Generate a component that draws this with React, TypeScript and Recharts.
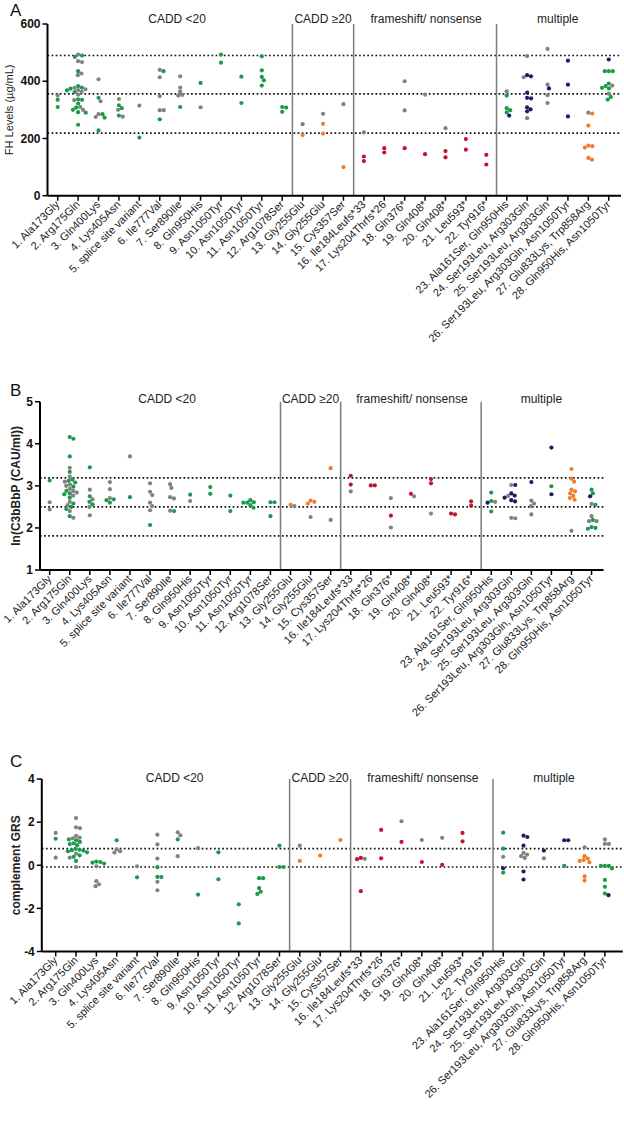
import React from 'react';
import { ScatterChart, Scatter, XAxis, YAxis, ReferenceLine } from 'recharts';

// ---- categories / sections ----
const categories = [
  '1. Ala173Gly', '2. Arg175Gln', '3. Gln400Lys', '4. Lys405Asn', '5. splice site variant',
  '6. Ile777Val', '7. Ser890Ile', '8. Gln950His', '9. Asn1050Tyr', '10. Asn1050Tyr',
  '11. Asn1050Tyr', '12. Arg1078Ser', '13. Gly255Glu', '14. Gly255Glu', '15. Cys357Ser',
  '16. Ile184Leufs*33', '17. Lys204Thrfs*26', '18. Gln376*', '19. Gln408*', '20. Gln408*',
  '21. Leu593*', '22. Tyr916*', '23. Ala161Ser, Gln950His', '24. Ser193Leu, Arg303Gln',
  '25. Ser193Leu, Arg303Gln', '26. Ser193Leu, Arg303Gln, Asn1050Tyr', '27. Glu833Lys, Trp858Arg',
  '28. Gln950His, Asn1050Tyr',
];
const catTicks = categories.map((_, i) => i + 1);
const sectionTitles = ['CADD <20', 'CADD \u226520', 'frameshift/ nonsense', 'multiple'];
const sectionCenters = [6.85, 14, 19.05, 25.5];
const sectionDividers = [12.5, 15.5, 22.5];

type Groups = Record<number, number[]>;

// ---- A: FH levels (µg/mL) ----
const fhRefs = [490, 356, 219];
const fhGreen: Groups = {
  1: [335, 310],
  2: [490, 485, 435, 383, 378, 374, 368, 362, 337, 335, 322, 308, 300, 292, 290, 248],
  3: [342, 285, 273, 228], 4: [316, 306, 280], 5: [203], 6: [435, 267], 7: [310], 8: [394],
  9: [493, 465], 10: [416, 324], 11: [487, 438, 415, 403, 385], 12: [310, 308, 293],
  23: [350, 306, 299, 291], 28: [435, 435, 435, 392, 383, 377, 375, 345, 336],
};
const fhGrey: Groups = {
  1: [350], 2: [493, 470, 467, 427, 421, 377, 372, 369, 363, 353, 334, 310, 300],
  3: [407, 330, 285, 275], 4: [338, 300, 276], 5: [315], 6: [440, 414, 348, 299, 299],
  7: [417, 378, 364, 352, 350], 8: [309], 13: [250], 14: [286], 15: [320], 16: [221],
  18: [400, 298], 19: [353], 20: [236], 23: [365], 24: [488, 414, 271], 25: [513, 388, 351, 324],
  27: [290], 28: [385, 357],
};
const fhOrange: Groups = { 13: [212], 14: [251, 217], 15: [100], 27: [287, 245, 175, 173, 168, 132, 126] };
const fhRed: Groups = { 16: [137, 121], 17: [166, 151], 18: [166], 19: [145], 20: [156, 134], 21: [198, 161], 22: [143, 109] };
const fhNavy: Groups = { 23: [280], 24: [421, 417, 360, 342, 340, 309, 302, 295], 25: [375], 26: [472, 388, 277], 28: [476] };

// ---- B: ln(C3bBbP) ----
const c3Refs = [3.19, 2.5, 1.81];
const c3Green: Groups = {
  1: [3.13],
  2: [4.16, 4.12, 3.7, 3.33, 3.15, 3.12, 3.08, 2.98, 2.88, 2.82, 2.8, 2.72, 2.58, 2.5, 2.45, 2.28],
  3: [3.44, 2.75, 2.62, 2.56], 4: [2.68, 2.66, 2.6], 5: [2.73], 6: [2.07], 7: [2.4], 8: [2.79],
  9: [2.97, 2.81], 10: [2.77, 2.4], 11: [2.66, 2.61, 2.6, 2.6, 2.54, 2.48], 12: [2.61, 2.61, 2.28],
  23: [2.84, 2.64, 2.39], 26: [2.99], 28: [2.91, 2.82, 2.55, 2.19, 2.02, 2.0, 1.98],
};
const c3Grey: Groups = {
  1: [2.61, 2.44], 2: [3.43, 3.22, 3.1, 3.03, 3.0, 2.93, 2.88, 2.84, 2.77, 2.62, 2.54, 2.4, 2.24],
  3: [2.91, 2.68, 2.5, 2.3], 4: [3.09, 2.92, 2.71], 5: [3.7], 6: [3.06, 2.86, 2.78, 2.6, 2.52, 2.42],
  7: [3.04, 2.95, 2.73, 2.7, 2.41], 8: [2.64], 13: [2.52], 14: [2.26], 15: [2.19], 16: [2.87],
  18: [2.71, 2.01], 19: [2.75], 20: [2.34], 23: [2.62], 24: [3.02, 2.76, 2.24, 2.23],
  25: [2.65, 2.58, 2.52, 2.32], 27: [1.93], 28: [2.57, 2.28, 2.16, 2.16],
};
const c3Orange: Groups = { 13: [2.55], 14: [2.65, 2.62, 2.58], 15: [3.42], 27: [3.4, 3.17, 3.1, 2.91, 2.87, 2.82, 2.76, 2.71, 2.67] };
const c3Red: Groups = { 16: [3.24, 3.03], 17: [3.01, 3.01], 18: [2.29], 19: [2.81], 20: [3.16, 3.06], 21: [2.34, 2.32], 22: [2.63, 2.53] };
const c3Navy: Groups = { 23: [2.6], 24: [3.02, 2.82, 2.77, 2.72, 2.66, 2.63], 25: [3.09], 26: [3.91, 2.8], 28: [2.75] };

// ---- C: complement GRS ----
const grsRefs = [0.77, -0.08];
const grsGreen: Groups = {
  1: [1.23], 2: [1.2, 1.16, 1.08, 1.02, 0.98, 0.93, 0.76, 0.72, 0.7, 0.68, 0.65, 0.6, 0.46, 0.39, 0.2],
  3: [0.17, 0.15, 0.12, 0.08], 4: [1.16], 5: [-0.56], 6: [-0.09, -0.54, -0.55], 7: [1.2], 8: [-1.36],
  9: [0.6, -0.65], 10: [-1.81, -2.7], 11: [-0.6, -0.6, -1.06, -1.23, -1.33], 12: [0.91, -0.08, -0.08],
  23: [1.51, 0.77, -0.34], 26: [-0.03], 28: [-0.03, -0.03, -0.03, -0.15, -0.68, -1.0, -1.31],
};
const grsGrey: Groups = {
  1: [1.5, 0.35], 2: [2.19, 1.76, 1.72, 1.36, 1.28, 1.25, 0.54, 0.35, -0.08], 3: [-0.05, -0.74, -0.88, -0.97],
  4: [0.74, 0.65, 0.59], 5: [-0.05], 6: [1.42, 0.97, 0.31, -0.77, -1.16], 7: [1.53, 1.39, 0.42], 8: [0.79],
  13: [0.91], 16: [0.3], 18: [2.04], 19: [1.17], 20: [1.27], 23: [0.39], 24: [0.57, 0.49, 0.42, 0.34],
  25: [0.32], 27: [0.83], 28: [1.2, 0.99, 0.99],
};
const grsOrange: Groups = { 13: [0.2], 14: [0.45], 15: [1.17], 27: [0.42, 0.31, 0.24, 0.2, 0.14, -0.52, -0.71] };
const grsRed: Groups = { 16: [0.34, 0.28, -1.2], 17: [1.64, 0.32], 18: [1.08], 19: [0.15], 20: [0.02], 21: [1.5, 1.11] };
const grsNavy: Groups = { 23: [-0.14], 24: [1.37, 1.31, 0.91, -0.29, -0.66], 25: [0.68], 26: [1.16, 1.16], 28: [-1.39] };

const COLORS = { green: '#1b9a4a', grey: '#828282', orange: '#f07d2b', red: '#c3162e', navy: '#1e1b68' };
const FONT = "'Liberation Sans', Arial, sans-serif";

type Series = { color: string; groups: Groups };

// simple beeswarm, offsets in px, worked out from the values
function buildPoints(series: Series[], pxPerY: number, pxPerX: number, sep = 4) {
  const out = series.map(() => [] as { x: number; y: number }[]);
  for (const cat of catTicks) {
    const pts: { v: number; s: number }[] = [];
    series.forEach((s, si) => (s.groups[cat] || []).forEach((v) => pts.push({ v, s: si })));
    pts.sort((a, b) => b.v - a.v);
    const placed: { o: number; yp: number }[] = [];
    for (const p of pts) {
      const yp = p.v * pxPerY;
      const cands = [0];
      for (const q of placed) {
        const d = Math.abs(yp - q.yp);
        if (d < sep) {
          const h = Math.sqrt(sep * sep - d * d);
          cands.push(q.o + h, q.o - h);
        }
      }
      cands.sort((a, b) => Math.abs(a) - Math.abs(b) || b - a);
      const o = cands.find((c) => placed.every((q) => (c - q.o) ** 2 + (yp - q.yp) ** 2 >= sep * sep - 0.01)) ?? 0;
      placed.push({ o, yp });
      out[p.s].push({ x: cat + o / pxPerX, y: p.v });
    }
  }
  return out;
}

const CatTick = (props: any) => {
  const { x, y, payload } = props;
  const px = x + 2.5;
  const py = y + 2.5;
  return (
    <text x={px} y={py} transform={`rotate(-45 ${px} ${py})`} textAnchor="end" fontSize={11} fill="#1a1a1a" fontFamily={FONT}>
      {categories[payload.value - 1]}
    </text>
  );
};

interface PanelProps {
  letter: string;
  top: number;
  height: number;
  margin: { top: number; right: number; bottom: number; left: number };
  yAxisWidth: number;
  xDomain: [number, number];
  yDomain: [number, number];
  yTicks: number[];
  yLabel: string;
  yLabelBold: boolean;
  yLabelOffset: number;
  refs: number[];
  titleOffset: number;
  letterY: number;
  series: Series[];
}

const Panel = (p: PanelProps) => {
  const plotW = 624 - p.margin.left - p.margin.right - p.yAxisWidth;
  const plotH = p.height - p.margin.top - p.margin.bottom - 150;
  const pxPerX = plotW / (p.xDomain[1] - p.xDomain[0]);
  const pxPerY = plotH / (p.yDomain[1] - p.yDomain[0]);
  const pts = buildPoints(p.series, pxPerY, pxPerX);
  return (
    <div style={{ position: 'absolute', left: 0, top: p.top }}>
      <ScatterChart width={624} height={p.height} margin={p.margin}>
        <XAxis
          type="number" dataKey="x" domain={p.xDomain} ticks={catTicks} interval={0} height={150}
          tick={<CatTick />} tickSize={5} tickMargin={2} allowDataOverflow
          axisLine={{ stroke: '#000', strokeWidth: 2 }} tickLine={{ stroke: '#000', strokeWidth: 1.5 }}
        />
        <YAxis
          type="number" dataKey="y" domain={p.yDomain} ticks={p.yTicks} interval={0} width={p.yAxisWidth}
          tickSize={5} tickMargin={2} allowDataOverflow
          tick={{ fontSize: 12, fontWeight: 700, fill: '#111', fontFamily: FONT }}
          axisLine={{ stroke: '#000', strokeWidth: 2 }} tickLine={{ stroke: '#000', strokeWidth: 1.5 }}
          label={{
            value: p.yLabel, angle: -90, position: 'insideLeft', offset: p.yLabelOffset,
            style: { textAnchor: 'middle', fontSize: p.yLabelBold ? 12 : 11, fontWeight: p.yLabelBold ? 700 : 400, fill: '#222', fontFamily: FONT },
          }}
        />
        {p.refs.map((r) => (
          <ReferenceLine key={'r' + r} y={r} stroke="#111" strokeWidth={1.7} strokeDasharray="1.7 2.4" />
        ))}
        {sectionDividers.map((d) => (
          <ReferenceLine key={'d' + d} x={d} stroke="#7d7d7d" strokeWidth={1.5} />
        ))}
        {sectionCenters.map((c, i) => (
          <ReferenceLine
            key={'t' + c} x={c} stroke="none"
            label={{ value: sectionTitles[i], position: 'top', offset: p.titleOffset, fontSize: 12, fill: '#222', fontFamily: FONT }}
          />
        ))}
        {p.series.map((s, i) => (
          <Scatter
            key={i} data={pts[i]} isAnimationActive={false}
            shape={(sp: any) => <circle cx={sp.cx} cy={sp.cy} r={2.1} fill={s.color} />}
          />
        ))}
      </ScatterChart>
      <svg width={40} height={30} style={{ position: 'absolute', left: 0, top: 0 }}>
        <text x={10} y={p.letterY} fontSize={17} fill="#111" fontFamily={FONT}>
          {p.letter}
        </text>
      </svg>
    </div>
  );
};

export default function App() {
  return (
    <div style={{ position: 'absolute', left: 0, top: 0, width: 624, height: 1125, background: '#fff', fontFamily: FONT }}>
      <Panel
        letter="A" letterY={15.5} top={0} height={370} margin={{ top: 24, right: 3, bottom: 24.3, left: 7.5 }} yAxisWidth={40}
        xDomain={[0.5, 28.6]} yDomain={[0, 600]} yTicks={[0, 200, 400, 600]}
        yLabel={'FH Levels (\u00b5g/mL)'} yLabelBold={false} yLabelOffset={1.5} refs={fhRefs} titleOffset={1}
        series={[
          { color: COLORS.grey, groups: fhGrey }, { color: COLORS.green, groups: fhGreen },
          { color: COLORS.orange, groups: fhOrange }, { color: COLORS.red, groups: fhRed },
          { color: COLORS.navy, groups: fhNavy },
        ]}
      />
      <Panel
        letter="B" letterY={25.5} top={370} height={370} margin={{ top: 31.7, right: 20.4, bottom: 20, left: 6 }} yAxisWidth={34}
        xDomain={[0.517, 28.6]} yDomain={[1, 5]} yTicks={[1, 2, 3, 4, 5]}
        yLabel="ln(C3bBbP (CAU/ml))" yLabelBold yLabelOffset={10} refs={c3Refs} titleOffset={-1.3}
        series={[
          { color: COLORS.grey, groups: c3Grey }, { color: COLORS.green, groups: c3Green },
          { color: COLORS.orange, groups: c3Orange }, { color: COLORS.red, groups: c3Red },
          { color: COLORS.navy, groups: c3Navy },
        ]}
      />
      <Panel
        letter="C" letterY={27} top={740} height={385} margin={{ top: 39, right: 1.2, bottom: 23.5, left: 6.8 }} yAxisWidth={35}
        xDomain={[0.317, 28.88]} yDomain={[-4, 4]} yTicks={[-4, -2, 0, 2, 4]}
        yLabel="complement GRS" yLabelBold yLabelOffset={9.2} refs={grsRefs} titleOffset={-2.7}
        series={[
          { color: COLORS.grey, groups: grsGrey }, { color: COLORS.green, groups: grsGreen },
          { color: COLORS.orange, groups: grsOrange }, { color: COLORS.red, groups: grsRed },
          { color: COLORS.navy, groups: grsNavy },
        ]}
      />
    </div>
  );
}
